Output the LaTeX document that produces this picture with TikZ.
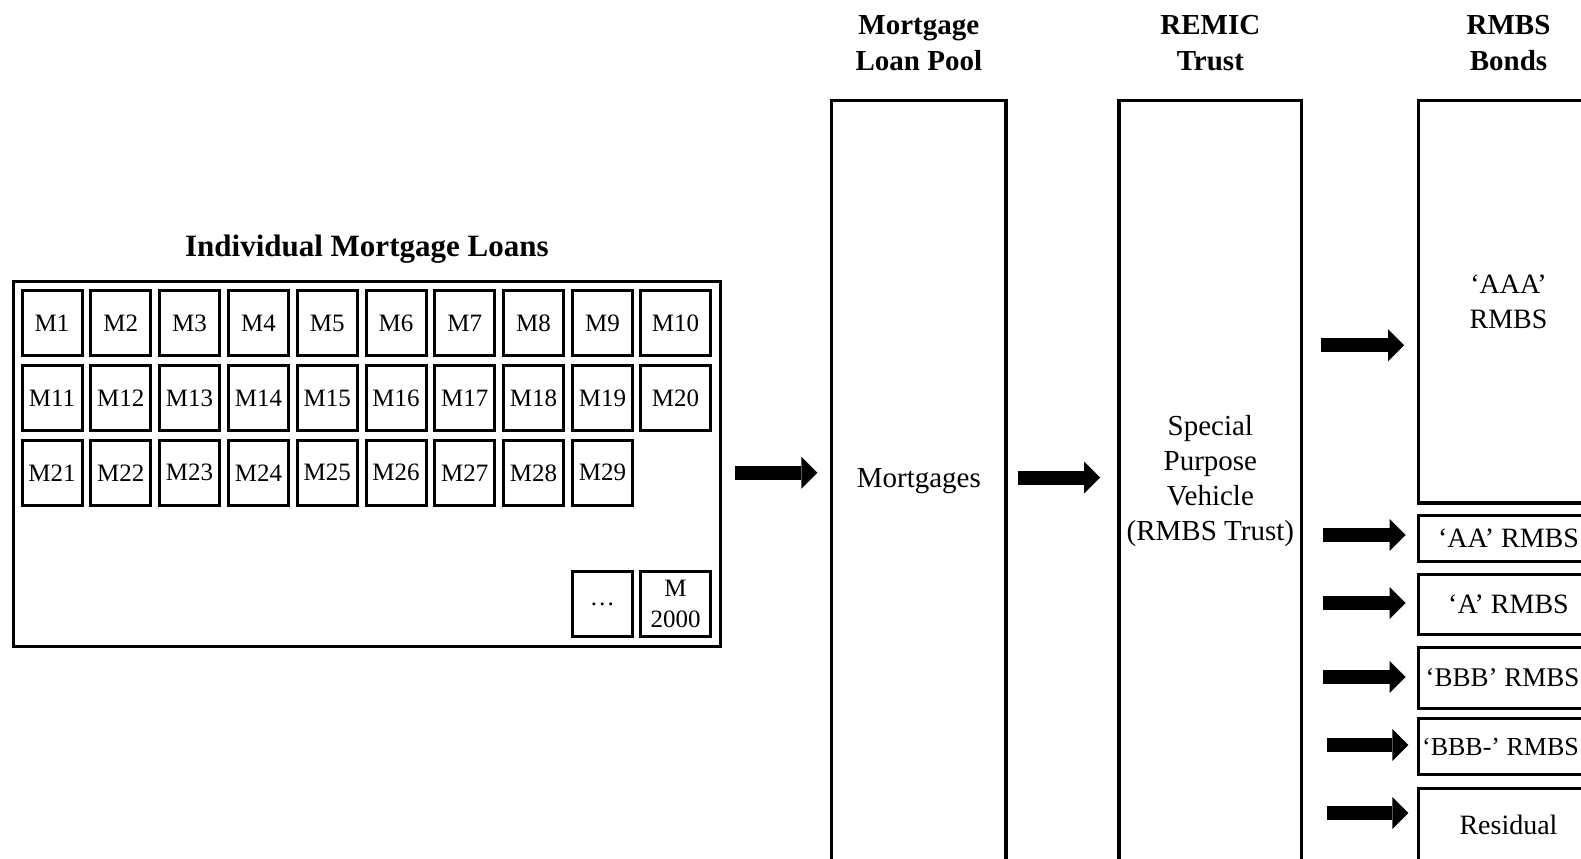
\documentclass[tikz,border=0pt]{standalone}
\usepackage{fontspec}
\setmainfont{Liberation Serif}
\usetikzlibrary{arrows.meta,positioning}

\tikzset{
  box/.style={draw, line width=1.6pt, inner sep=0pt, align=center, font=\fontsize{14.5}{17.5}\selectfont},
  bond/.style={box, minimum width=90pt, font=\fontsize{14}{17.5}\selectfont},
  loan/.style={draw, line width=1.5pt, inner sep=0pt, minimum width=30pt, minimum height=32.5pt, align=center, font=\fontsize{12.5}{15.5}\selectfont},
  loanwide/.style={loan, minimum width=35pt},
  head/.style={align=center, font=\bfseries\fontsize{14.5}{18}\selectfont},
  blockarrow/.style={line width=7pt, -{Triangle[length=8pt,width=16pt,line width=0pt]}},
}

\begin{document}
\begin{tikzpicture}[x=0.5pt,y=-0.5pt]
  \useasboundingbox (0,0) rectangle (1581,858);
  \clip (0,0) rectangle (1581,858);

  % loans on the left
  \node[box, minimum width=353.35pt, minimum height=182.65pt] (loans) at (366.85,464.15) {};
  \node[head, font=\bfseries\fontsize{15.5}{18}\selectfont] (tloans) at (loans.north |- 0,249) {Individual Mortgage Loans};
  \foreach \r in {0,1,2}{
    \foreach \c in {1,...,9}{
      \pgfmathtruncatemacro{\n}{10*\r+\c}
      \node[loan] (m\n) at ({52+(\c-1)*68.8},{323.3+\r*74.75}) {M\n};
    }
  }
  \node[loanwide] (m10) at (675.5,323.3) {M10};
  \node[loanwide] (m20) at (675.5,398.05) {M20};
  \node[loan] (mdots) at (602.4,604.2) {\dots};
  \node[loanwide] (mlast) at (675.5,604.2) {M\\2000};

  % pool and trust
  \node[box, minimum width=87.15pt, minimum height=380.15pt] (pool) at (918.85,480.85) {Mortgages};
  \node[box, minimum width=91.35pt, minimum height=380.15pt] (remic) at (1210.35,480.85) {Special\\Purpose\\Vehicle\\(RMBS Trust)};
  \node[head] (hpool) at (pool.north |- 0,43.3) {Mortgage\\Loan Pool};
  \node[head] (hremic) at (remic.north |- 0,43.3) {REMIC\\Trust};

  % bonds
  \node[bond, minimum height=201.15pt] (aaa) at (1508.5,301.85) {`AAA'\\RMBS};
  \node[bond, minimum height=22.7pt] (aa) at (1508.5,538.5) {`AA' RMBS};
  \node[bond, minimum height=30pt] (a) at (1508.5,604.2) {`A' RMBS};
  \node[bond, minimum height=30.65pt, font=\fontsize{13.5}{17.5}\selectfont] (bbb) at (1508.5,677.85) {\hspace*{-6pt}`BBB' RMBS};
  \node[bond, minimum height=27.85pt, font=\fontsize{13}{17.5}\selectfont] (bbbm) at (1508.5,746.65) {\hspace*{-8pt}`BBB-' RMBS};
  \node[bond, minimum height=37pt] (resid) at (1508.5,825.2) {Residual};
  \node[head] (hbonds) at (aaa.north |- 0,43.3) {RMBS\\Bonds};

  % arrows
  \draw[blockarrow, shorten <=6.55pt, shorten >=6.35pt] (loans.east |- 0,472.8) -- (pool.west |- 0,472.8);
  \draw[blockarrow, shorten <=5pt, shorten >=8.65pt] (pool.east |- 0,477.5) -- (remic.west |- 0,477.5);
  \draw[blockarrow, shorten <=8.8pt, shorten >=6.4pt] (remic.east |- 0,345.3) -- (aaa.west |- 0,345.3);
  \draw[blockarrow, shorten <=10pt, shorten >=5.6pt] (remic.east |- 0,535) -- (aa.west |- 0,535);
  \draw[blockarrow, shorten <=10pt, shorten >=5.6pt] (remic.east |- 0,603) -- (a.west |- 0,603);
  \draw[blockarrow, shorten <=10pt, shorten >=5.6pt] (remic.east |- 0,677) -- (bbb.west |- 0,677);
  \draw[blockarrow, shorten <=11.65pt, shorten >=4.25pt] (remic.east |- 0,745) -- (bbbm.west |- 0,745);
  \draw[blockarrow, shorten <=11.65pt, shorten >=4.25pt] (remic.east |- 0,813) -- (resid.west |- 0,813);
\end{tikzpicture}
\end{document}
